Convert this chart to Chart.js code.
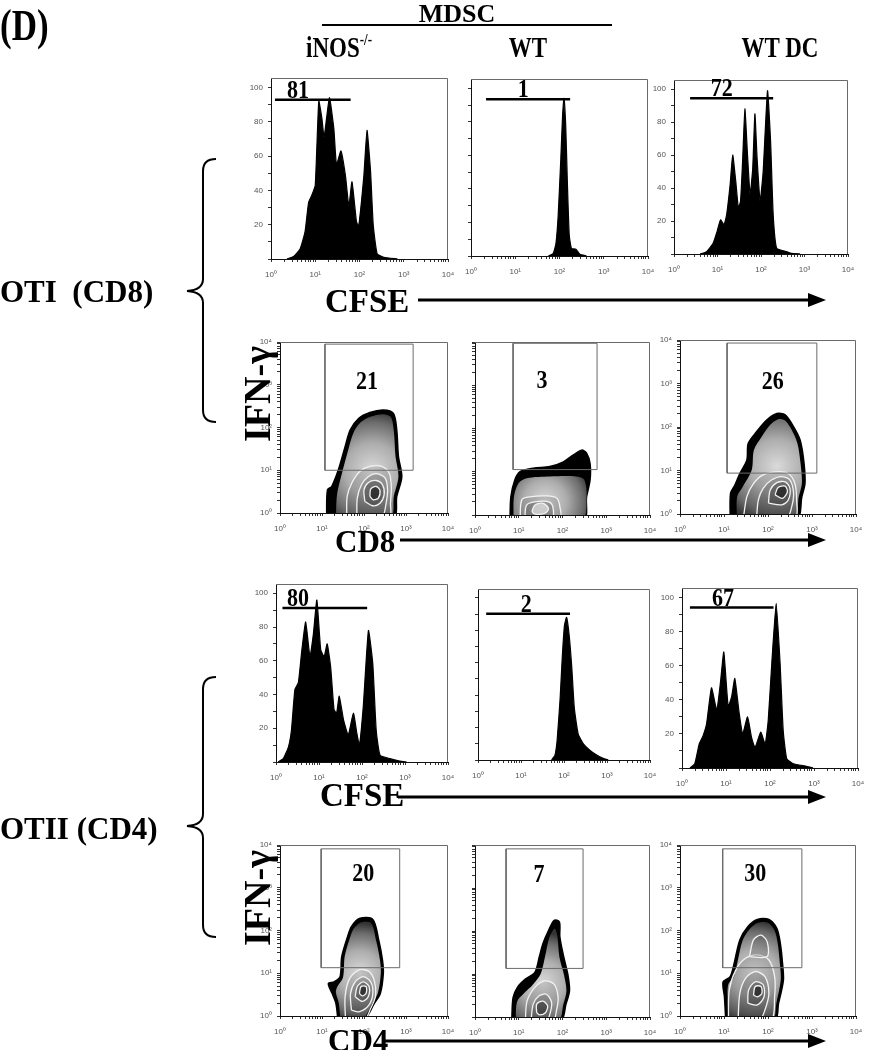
<!DOCTYPE html>
<html>
<head>
<meta charset="utf-8">
<script src="https://cdn.jsdelivr.net/npm/chart.js@4.4.1/dist/chart.umd.min.js"></script>
<style>
  body { margin: 0; background: #fff; }
  #fig { position: relative; width: 876px; height: 1050px; overflow: hidden; background: #fff;
         font-family: "Liberation Serif", "Times New Roman", serif; font-weight: bold; color: #000; }
  #fig canvas { position: absolute; }
  .t { position: absolute; white-space: nowrap; line-height: 1; z-index: 5; }
  .c { transform: translate(-50%, -50%); }
  .h { transform: translate(-50%, -50%) scaleY(1.3); }
  .m { transform: translateY(-50%); }
  .r { transform: translate(-50%, -50%) rotate(-90deg); }
  sup { font-size: 13px; vertical-align: 9px; line-height: 0; }
  svg { position: absolute; left: 0; top: 0; z-index: 4; }
</style>
</head>
<body>
<div id="fig">
  <div class="t" style="left:0px;top:4px;font-size:35px;transform:scaleY(1.25);transform-origin:0 0;">(D)</div>
  <div class="t c" style="left:457px;top:14px;font-size:26px;">MDSC</div>
  <div class="t h" style="left:339px;top:47px;font-size:23px;">iNOS<sup>-/-</sup></div>
  <div class="t h" style="left:528px;top:47px;font-size:23px;">WT</div>
  <div class="t h" style="left:780px;top:47px;font-size:23px;">WT DC</div>

  <div class="t m" style="left:0px;top:291px;font-size:31px;">OTI&nbsp;&nbsp;(CD8)</div>
  <div class="t m" style="left:0px;top:828px;font-size:31px;">OTII (CD4)</div>

  <div class="t r" style="left:257px;top:394px;font-size:38px;">IFN-γ</div>
  <div class="t r" style="left:257px;top:898px;font-size:38px;">IFN-γ</div>

  <div class="t m" style="left:325px;top:301px;font-size:33px;">CFSE</div>
  <div class="t m" style="left:335px;top:541px;font-size:31px;">CD8</div>
  <div class="t m" style="left:320px;top:795px;font-size:33px;">CFSE</div>
  <div class="t m" style="left:328px;top:1040px;font-size:31px;">CD4</div>

  <svg width="876" height="1050">
    <line x1="322" y1="25" x2="612" y2="25" stroke="#000" stroke-width="2"/>
    <path d="M216 159 Q203 159 203 171 L203 279 Q203 290 187 291 Q203 292 203 303 L203 410 Q203 422 216 422"
          fill="none" stroke="#000" stroke-width="2"/>
    <path d="M216 677 Q203 677 203 689 L203 814 Q203 825 187 826 Q203 827 203 838 L203 925 Q203 937 216 937"
          fill="none" stroke="#000" stroke-width="2"/>
    <line x1="418" y1="300" x2="810" y2="300" stroke="#000" stroke-width="3"/>
    <polygon points="808,293 826,300 808,307"/>
    <line x1="400" y1="540" x2="810" y2="540" stroke="#000" stroke-width="3"/>
    <polygon points="808,533 826,540 808,547"/>
    <line x1="398" y1="797" x2="810" y2="797" stroke="#000" stroke-width="3"/>
    <polygon points="808,790 826,797 808,804"/>
    <line x1="382" y1="1041" x2="810" y2="1041" stroke="#000" stroke-width="3"/>
    <polygon points="808,1034 826,1041 808,1048"/>
  </svg>
</div>

<script>
// ---- CFSE histograms, OT-I (CD8): x = log10 CFSE, y = % of max ----
const cd8InosX = [0.36,0.51,0.66,0.77,0.85,0.92,1.00,1.08,1.15,1.20,1.32,1.42,1.48,1.58,1.68,1.76,1.83,1.93,1.98,2.10,2.17,2.25,2.31,2.40,2.55,2.86];
const cd8InosY = [0,1.4,6,16,33,37,43,92,82,71,94,76,55,63,49,31,45,22,19,49,75,51,20,3,1,0];
const cd8WtX   = [1.75,1.86,1.92,1.97,2.03,2.07,2.10,2.14,2.18,2.22,2.27,2.37,2.46,2.61];
const cd8WtY   = [0,1.6,7.5,24,58,84,94,78,42,12.5,4.5,4,1,0];
const cd8DcX   = [0.60,0.75,0.90,0.99,1.07,1.15,1.21,1.29,1.35,1.42,1.48,1.53,1.58,1.63,1.69,1.75,1.81,1.86,1.91,1.98,2.05,2.15,2.22,2.28,2.36,2.59,2.70,2.90];
const cd8DcY   = [0,1.4,6.5,13.6,20.7,17.7,23.8,42,60,44,28,32,58,88,60,36,52,85,58,32,50,99,68.5,24,3.5,1.4,0.4,0];

// ---- CFSE histograms, OT-II (CD4) ----
const cd4InosX = [0.05,0.17,0.29,0.36,0.44,0.52,0.60,0.69,0.79,0.87,0.95,1.04,1.12,1.19,1.27,1.35,1.41,1.47,1.57,1.68,1.80,1.88,1.94,2.03,2.15,2.25,2.33,2.42,2.65,2.88,3.04];
const cd4InosY = [0,2,9,19,43,47,66,83,62.5,76,96,66.5,62.5,70,56.5,31,29,39,25,16,29,17,10,33,78,58.5,19,4,2,0.6,0];
const cd4WtX   = [1.71,1.79,1.84,1.91,1.96,2.01,2.06,2.12,2.18,2.24,2.33,2.45,2.60,2.76,2.91,3.03];
const cd4WtY   = [0,3,12,38,63.5,83,88,77,57.5,32,16,10,6,3,1,0];
const cd4DcX   = [0.18,0.29,0.39,0.48,0.56,0.67,0.79,0.88,0.95,1.05,1.13,1.20,1.30,1.38,1.49,1.58,1.66,1.79,1.89,1.96,2.04,2.14,2.23,2.30,2.38,2.53,2.83,2.98];
const cd4DcY   = [0,2.5,14,19,26,47,34,51.5,68,36,42,52.5,32,20,30,18,12,21,14,28,61,96.5,61,22,5.5,2.5,1,0];

// histogram gates (log10 ends, height) and percentages
const cd8GateLo = [0.09, 0.34, 0.37];
const cd8GateHi = [1.80, 2.24, 2.28];
const cd8GateY  = [92.8, 93.5, 94.5];
const cd8Pct    = ['81', '1', '72'];
const cd8PctX   = [0.61, 1.18, 1.10];
const cd4GateLo = [0.15, 0.19, 0.18];
const cd4GateHi = [2.12, 2.14, 2.08];
const cd4GateY  = [91.3, 90.3, 94.0];
const cd4Pct    = ['80', '2', '67'];
const cd4PctX   = [0.51, 1.12, 0.93];

// ---- IFN-γ contour plots: outlines as [log10 CD, log10 IFN-γ] ----
const c8InosOuter = [[1.11,-0.1],[1.13,0.54],[1.23,0.62],[1.39,1.01],[1.55,1.55],[1.67,1.94],[1.87,2.21],[2.14,2.35],[2.46,2.41],[2.70,2.33],[2.78,1.94],[2.82,1.32],[2.90,0.85],[2.78,0.39],[2.70,-0.1]];
const c8InosInner = [[1.33,-0.1],[1.36,0.45],[1.48,0.95],[1.63,1.50],[1.75,1.88],[1.92,2.12],[2.15,2.25],[2.45,2.31],[2.64,2.24],[2.71,1.92],[2.75,1.32],[2.82,0.85],[2.71,0.39],[2.63,-0.1]];
const c8InosRings = [
  [[1.59,-0.1],[1.60,0.39],[1.71,0.70],[1.90,0.97],[2.14,1.09],[2.42,1.09],[2.60,0.93],[2.65,0.62],[2.63,0.23],[2.60,-0.1]],
  [[1.83,-0.1],[1.84,0.35],[1.94,0.66],[2.10,0.85],[2.30,0.92],[2.50,0.82],[2.56,0.54],[2.52,0.19],[2.42,-0.1]],
  [[2.02,0.27],[2.00,0.54],[2.10,0.71],[2.29,0.76],[2.44,0.66],[2.48,0.43],[2.38,0.23],[2.21,0.17]],
  [[2.14,0.39],[2.16,0.56],[2.29,0.62],[2.38,0.53],[2.34,0.35],[2.22,0.31]]
];
const c8WtOuter = [[0.80,-0.1],[0.82,0.42],[0.91,0.81],[1.03,1.00],[1.33,1.08],[1.71,1.12],[2.02,1.23],[2.25,1.39],[2.44,1.50],[2.55,1.43],[2.63,1.19],[2.63,0.81],[2.55,0.42],[2.48,-0.1]];
const c8WtInner = [[0.88,-0.1],[0.89,0.42],[0.99,0.73],[1.18,0.85],[1.71,0.89],[2.32,0.89],[2.50,0.81],[2.55,0.42],[2.45,-0.1]];
const c8WtRings = [
  [[1.03,-0.1],[1.07,0.35],[1.26,0.42],[1.64,0.44],[1.87,0.39],[1.94,0.19],[1.94,-0.1]],
  [[1.14,-0.1],[1.18,0.23],[1.41,0.31],[1.71,0.29],[1.79,0.12],[1.75,-0.1]],
  [[1.30,0.08],[1.37,0.23],[1.56,0.27],[1.68,0.15],[1.60,0.04],[1.37,0.02]]
];
const c8DcOuter = [[1.14,-0.1],[1.15,0.48],[1.25,0.67],[1.36,0.93],[1.52,1.24],[1.55,1.62],[1.74,1.89],[1.97,2.16],[2.20,2.31],[2.39,2.28],[2.58,2.01],[2.73,1.70],[2.82,1.16],[2.84,0.70],[2.77,0.40],[2.65,-0.1]];
const c8DcInner = [[1.29,-0.1],[1.30,0.40],[1.43,0.63],[1.63,1.01],[1.68,1.47],[1.86,1.78],[2.05,2.05],[2.23,2.18],[2.39,2.15],[2.54,1.93],[2.67,1.62],[2.74,1.16],[2.77,0.70],[2.70,0.40],[2.59,-0.1]];
const c8DcRings = [
  [[1.44,-0.1],[1.52,0.40],[1.67,0.70],[1.89,0.90],[2.20,0.97],[2.46,0.93],[2.61,0.70],[2.65,0.32],[2.61,-0.1]],
  [[1.74,-0.1],[1.78,0.32],[1.89,0.59],[2.08,0.78],[2.31,0.86],[2.50,0.78],[2.58,0.48],[2.54,0.17],[2.42,-0.1]],
  [[2.01,0.25],[2.05,0.55],[2.20,0.72],[2.39,0.74],[2.50,0.59],[2.46,0.32],[2.31,0.21]],
  [[2.16,0.44],[2.23,0.61],[2.39,0.64],[2.44,0.51],[2.33,0.36]]
];
const c4InosOuter = [[1.38,-0.1],[1.33,0.30],[1.24,0.53],[1.15,0.76],[1.29,0.80],[1.43,0.92],[1.47,1.39],[1.61,1.86],[1.70,2.09],[1.89,2.28],[2.21,2.26],[2.35,1.78],[2.44,1.31],[2.46,1.00],[2.39,0.53],[2.25,0.30],[1.98,-0.1]];
const c4InosInner = [[1.44,-0.1],[1.40,0.30],[1.33,0.55],[1.36,0.68],[1.50,0.90],[1.54,1.39],[1.67,1.84],[1.76,2.05],[1.92,2.19],[2.17,2.17],[2.29,1.76],[2.38,1.31],[2.40,1.00],[2.33,0.53],[2.20,0.30],[1.94,-0.1]];
const c4InosRings = [
  [[1.56,-0.1],[1.55,0.45],[1.66,0.88],[1.89,1.08],[2.12,1.04],[2.25,0.80],[2.27,0.45],[2.16,0.18],[2.00,-0.1]],
  [[1.70,0.14],[1.68,0.53],[1.79,0.80],[1.98,0.92],[2.16,0.80],[2.21,0.53],[2.12,0.26],[1.89,0.10]],
  [[1.79,0.45],[1.84,0.69],[1.98,0.80],[2.12,0.69],[2.10,0.45],[1.96,0.34]],
  [[1.89,0.53],[1.93,0.69],[2.05,0.69],[2.05,0.53],[1.96,0.47]]
];
const c4WtOuter = [[0.84,-0.1],[0.87,0.45],[0.97,0.69],[1.15,0.88],[1.37,1.04],[1.47,1.40],[1.55,1.70],[1.68,2.01],[1.81,2.25],[1.93,2.21],[1.94,1.86],[2.03,1.39],[2.12,1.00],[2.16,0.61],[2.08,0.30],[1.95,-0.1]];
const c4WtInner = [[0.93,-0.1],[0.96,0.35],[1.12,0.55],[1.32,0.75],[1.50,1.00],[1.60,1.40],[1.70,1.85],[1.82,2.05],[1.88,1.90],[1.93,1.39],[2.03,1.00],[2.09,0.61],[2.02,0.30],[1.90,-0.1]];
const c4WtRings = [
  [[1.15,-0.1],[1.19,0.37],[1.37,0.69],[1.59,0.84],[1.81,0.76],[1.90,0.45],[1.86,0.14],[1.78,-0.1]],
  [[1.28,-0.1],[1.33,0.30],[1.46,0.49],[1.63,0.53],[1.75,0.34],[1.72,0.10],[1.63,-0.1]],
  [[1.41,0.10],[1.41,0.30],[1.55,0.37],[1.66,0.26],[1.61,0.10],[1.48,0.05]]
];
const c4DcOuter = [[1.04,-0.1],[1.01,0.45],[0.98,0.80],[1.14,0.92],[1.23,1.23],[1.36,1.78],[1.54,2.09],[1.76,2.26],[2.02,2.26],[2.20,2.05],[2.28,1.70],[2.33,1.23],[2.35,0.84],[2.24,0.30],[2.15,-0.1]];
const c4DcInner = [[1.10,-0.1],[1.08,0.45],[1.10,0.75],[1.22,0.90],[1.30,1.23],[1.42,1.76],[1.58,2.03],[1.77,2.18],[2.00,2.18],[2.15,2.00],[2.22,1.70],[2.27,1.23],[2.29,0.84],[2.19,0.30],[2.10,-0.1]];
const c4DcRings = [
  [[1.10,-0.1],[1.12,0.61],[1.27,1.08],[1.49,1.35],[1.76,1.43],[2.02,1.31],[2.15,0.92],[2.15,0.45],[2.06,-0.1]],
  [[1.32,-0.1],[1.36,0.53],[1.49,0.88],[1.71,1.04],[1.93,0.92],[2.02,0.53],[1.93,0.14],[1.80,-0.1]],
  [[1.54,0.30],[1.56,0.61],[1.71,0.80],[1.89,0.73],[1.91,0.45],[1.76,0.26]],
  [[1.67,0.49],[1.71,0.69],[1.84,0.69],[1.86,0.53],[1.76,0.45]],
  [[1.58,1.39],[1.67,1.78],[1.84,1.89],[1.98,1.74],[1.98,1.39]]
];

// rectangular IFN-γ gates (log10) and percentages
const ifn8GateX = [[1.07, 3.17], [0.87, 2.79], [1.07, 3.11]];
const ifn8GateY = [[1.00, 3.95], [1.05, 3.97], [0.94, 3.93]];
const ifn8Pct   = ['21', '3', '26'];
const ifn8PctAt = [[2.07, 3.05], [1.53, 3.09], [2.11, 3.03]];
const ifn4GateX = [[0.98, 2.85], [0.71, 2.47], [0.97, 2.77]];
const ifn4GateY = [[1.13, 3.91], [1.13, 3.91], [1.13, 3.91]];
const ifn4Pct   = ['20', '7', '30'];
const ifn4PctAt = [[1.98, 3.30], [1.46, 3.30], [1.71, 3.30]];

// ---------------- layout ----------------
const fig = document.getElementById('fig');
const boxes = {
  h8: [[271, 78, 177, 181], [471, 79, 177, 177], [674, 80, 174, 174]],
  c8: [[280, 342, 168, 171], [475, 342, 175, 173], [680, 340, 176, 174]],
  h4: [[276, 584, 172, 178], [478, 589, 172, 171], [682, 588, 176, 180]],
  c4: [[280, 845, 168, 171], [475, 845, 175, 172], [680, 845, 176, 171]]
};

const P = d => Math.pow(10, d);
const SUP = ['⁰', '¹', '²', '³', '⁴'];
const tickFont = { family: '"Liberation Sans", Arial, sans-serif', size: 8 };
const decadeTicks = [];
for (let e = 0; e < 4; e++) for (let m = 1; m < 10; m++) decadeTicks.push(m * Math.pow(10, e));
decadeTicks.push(10000);
const isDecade = v => Math.abs(Math.log10(v) - Math.round(Math.log10(v))) < 1e-6;

function makeCanvas(box) {
  const [L, T, W, H] = box;
  const c = document.createElement('canvas');
  c.width = W + 40;
  c.height = H + 34;
  c.style.left = (L - 30) + 'px';
  c.style.top = (T - 6) + 'px';
  fig.appendChild(c);
  return c;
}

function fitAxis(s) {
  if (s.isHorizontal()) { s.height = 28; s.paddingLeft = 0; s.paddingRight = 0; }
  else { s.width = 30; s.paddingTop = 0; s.paddingBottom = 0; }
}

const axisGrid = { drawOnChartArea: false, tickLength: 3, color: '#333' };
const axisBorder = { color: '#111', width: 1 };

function logAxis(labels, pad) {
  return {
    type: 'logarithmic', min: 1, max: 10000,
    afterBuildTicks: s => { s.ticks = decadeTicks.map(v => ({ value: v })); },
    afterFit: fitAxis,
    ticks: {
      autoSkip: false, maxRotation: 0, minRotation: 0, color: '#555', font: tickFont, padding: pad,
      callback: v => (labels && isDecade(v)) ? '10' + SUP[Math.round(Math.log10(v))] : ''
    },
    grid: axisGrid, border: axisBorder
  };
}

function pctAxis(labels) {
  return {
    type: 'linear', min: 0, max: 105.5,
    afterBuildTicks: s => { s.ticks = [0, 10, 20, 30, 40, 50, 60, 70, 80, 90, 100].map(v => ({ value: v })); },
    afterFit: fitAxis,
    ticks: {
      autoSkip: false, color: '#555', font: tickFont, padding: 5,
      callback: v => (labels && v > 0 && v % 20 === 0) ? String(v) : ''
    },
    grid: axisGrid, border: axisBorder
  };
}

// light frame on top / right of every panel
const frame = {
  id: 'frame',
  afterDatasetsDraw(ch) {
    const a = ch.chartArea, g = ch.ctx;
    g.save();
    g.strokeStyle = '#6a6a6a';
    g.lineWidth = 1;
    g.beginPath();
    g.moveTo(a.left, a.top + 0.5);
    g.lineTo(a.right - 0.5, a.top + 0.5);
    g.lineTo(a.right - 0.5, a.bottom);
    g.stroke();
    g.restore();
  }
};

// gate percentage placed in data coordinates
const pctLabel = {
  id: 'pctLabel',
  afterDatasetsDraw(ch, args, o) {
    if (!o || !o.text) return;
    const g = ch.ctx;
    const x = ch.scales.x.getPixelForValue(P(o.x));
    const y = ch.scales.y.getPixelForValue(o.logY ? P(o.y) : o.y);
    g.save();
    g.translate(x, y);
    g.scale(1, 1.15);
    g.font = 'bold 22px "Liberation Serif", "Times New Roman", serif';
    g.fillStyle = '#000';
    g.textAlign = 'center';
    g.textBaseline = o.base || 'middle';
    g.fillText(o.text, 0, 0);
    g.restore();
  }
};
Chart.register(frame, pctLabel);

function baseOpts(x, y, label) {
  return {
    responsive: false, animation: false, devicePixelRatio: 1, events: [],
    layout: { autoPadding: false, padding: { left: 0, top: 6, right: 10, bottom: 0 } },
    scales: { x, y },
    plugins: { legend: { display: false }, tooltip: { enabled: false }, pctLabel: label }
  };
}

function histChart(box, xs, ys, lo, hi, gy, pct, px, yLabels) {
  new Chart(makeCanvas(box), {
    type: 'scatter',
    data: {
      datasets: [
        { data: [{ x: P(lo), y: gy }, { x: P(hi), y: gy }], showLine: true,
          borderColor: '#000', borderWidth: 2.5, pointRadius: 0, clip: false },
        { data: xs.map((x, i) => ({ x: P(x), y: ys[i] })), showLine: true, fill: 'origin',
          backgroundColor: '#000', borderColor: '#000', borderWidth: 1.2, pointRadius: 0, tension: 0.15, clip: 0 }
      ]
    },
    options: baseOpts(logAxis(true, 8), pctAxis(yLabels), { text: pct, x: px, y: gy + 1.2, base: 'alphabetic' })
  });
}

function poly(arr, close) {
  const p = arr.map(([x, y]) => ({ x: P(x), y: P(y) }));
  if (close) p.push(p[0]);
  return p;
}

function shade(cx, cy, r) {
  return c => {
    const ch = c.chart;
    if (!ch.chartArea || !ch.scales.x) return '#999';
    const x = ch.scales.x.getPixelForValue(P(cx)), y = ch.scales.y.getPixelForValue(P(cy));
    const g = ch.ctx.createRadialGradient(x, y, 0, x, y, r);
    g.addColorStop(0, '#dadada');
    g.addColorStop(0.45, '#adadad');
    g.addColorStop(0.8, '#6c6c6c');
    g.addColorStop(1, '#333');
    return g;
  };
}

function shapeDs(arr, bg, border, bw) {
  return { data: poly(arr, true), showLine: true, fill: 'shape', backgroundColor: bg,
           borderColor: border || 'rgba(0,0,0,0)', borderWidth: bw || 0, pointRadius: 0, tension: 0.3, clip: 0 };
}

const ringFill = ['rgba(0,0,0,0.10)', 'rgba(0,0,0,0.16)', 'rgba(0,0,0,0.24)', 'rgba(0,0,0,0.5)', 'rgba(0,0,0,0.15)'];

function contourChart(box, outer, inner, rings, fills, sh, gx, gy, pct, at, yLabels) {
  const ds = [];
  ds.push({ data: poly([[gx[0], gy[0]], [gx[1], gy[0]], [gx[1], gy[1]], [gx[0], gy[1]]], true), showLine: true,
            fill: false, borderColor: '#6b6b6b', borderWidth: 1, pointRadius: 0, clip: 0 });
  for (let i = rings.length - 1; i >= 0; i--) ds.push(shapeDs(rings[i], fills[i], '#f2f2f2', 1.3));
  ds.push(shapeDs(inner, shade(sh[0], sh[1], sh[2])));
  ds.push(shapeDs(outer, '#000', '#000', 1.5));
  new Chart(makeCanvas(box), {
    type: 'scatter',
    data: { datasets: ds },
    options: baseOpts(logAxis(true, 8), logAxis(yLabels, 5), { text: pct, x: at[0], y: at[1], logY: true })
  });
}

// row 1: CFSE, OT-I
histChart(boxes.h8[0], cd8InosX, cd8InosY, cd8GateLo[0], cd8GateHi[0], cd8GateY[0], cd8Pct[0], cd8PctX[0], true);
histChart(boxes.h8[1], cd8WtX, cd8WtY, cd8GateLo[1], cd8GateHi[1], cd8GateY[1], cd8Pct[1], cd8PctX[1], false);
histChart(boxes.h8[2], cd8DcX, cd8DcY, cd8GateLo[2], cd8GateHi[2], cd8GateY[2], cd8Pct[2], cd8PctX[2], true);

// row 2: IFN-γ vs CD8
contourChart(boxes.c8[0], c8InosOuter, c8InosInner, c8InosRings, ringFill, [2.2, 1.0, 60],
             ifn8GateX[0], ifn8GateY[0], ifn8Pct[0], ifn8PctAt[0], true);
contourChart(boxes.c8[1], c8WtOuter, c8WtInner, c8WtRings,
             ['rgba(0,0,0,0.12)', 'rgba(0,0,0,0.2)', 'rgba(255,255,255,0.55)'], [1.6, 0.3, 48],
             ifn8GateX[1], ifn8GateY[1], ifn8Pct[1], ifn8PctAt[1], false);
contourChart(boxes.c8[2], c8DcOuter, c8DcInner, c8DcRings, ringFill, [2.2, 1.1, 60],
             ifn8GateX[2], ifn8GateY[2], ifn8Pct[2], ifn8PctAt[2], true);

// row 3: CFSE, OT-II
histChart(boxes.h4[0], cd4InosX, cd4InosY, cd4GateLo[0], cd4GateHi[0], cd4GateY[0], cd4Pct[0], cd4PctX[0], true);
histChart(boxes.h4[1], cd4WtX, cd4WtY, cd4GateLo[1], cd4GateHi[1], cd4GateY[1], cd4Pct[1], cd4PctX[1], false);
histChart(boxes.h4[2], cd4DcX, cd4DcY, cd4GateLo[2], cd4GateHi[2], cd4GateY[2], cd4Pct[2], cd4PctX[2], true);

// row 4: IFN-γ vs CD4
contourChart(boxes.c4[0], c4InosOuter, c4InosInner, c4InosRings, ringFill, [1.9, 1.0, 50],
             ifn4GateX[0], ifn4GateY[0], ifn4Pct[0], ifn4PctAt[0], true);
contourChart(boxes.c4[1], c4WtOuter, c4WtInner, c4WtRings,
             ['rgba(0,0,0,0.10)', 'rgba(0,0,0,0.18)', 'rgba(0,0,0,0.35)'], [1.55, 0.8, 50],
             ifn4GateX[1], ifn4GateY[1], ifn4Pct[1], ifn4PctAt[1], false);
contourChart(boxes.c4[2], c4DcOuter, c4DcInner, c4DcRings, ringFill, [1.7, 1.0, 52],
             ifn4GateX[2], ifn4GateY[2], ifn4Pct[2], ifn4PctAt[2], true);
</script>
</body>
</html>
